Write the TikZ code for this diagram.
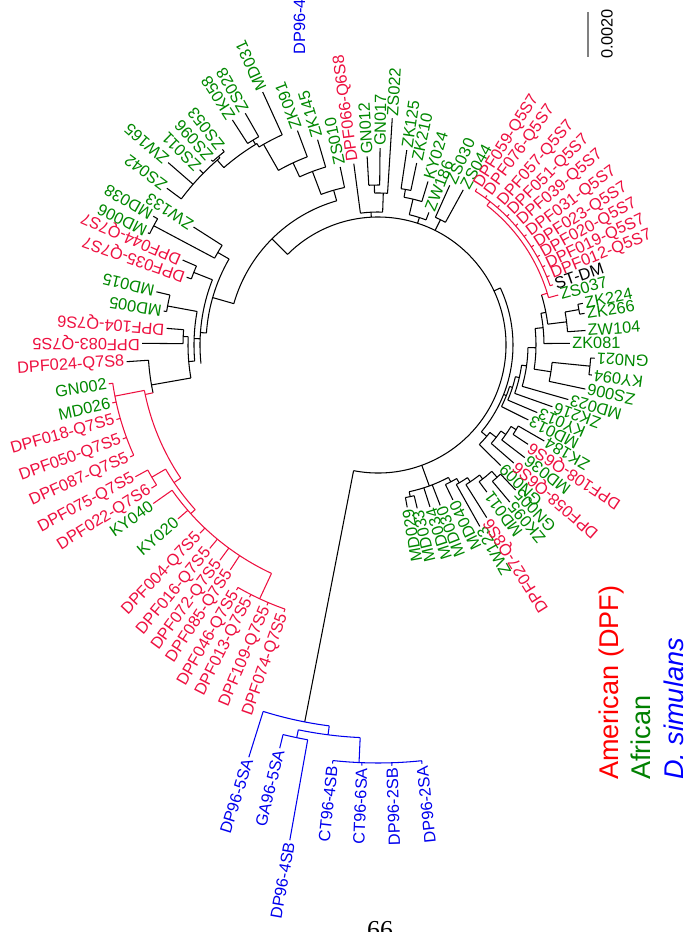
\documentclass[tikz,border=0pt]{standalone}
\usepackage{fontspec}
\setmainfont{Liberation Sans}
\newfontfamily\pagefont{Liberation Serif}
\definecolor{dpfred}{RGB}{238,16,64}
\definecolor{afgreen}{RGB}{0,136,0}
\definecolor{simblue}{RGB}{0,0,238}
\begin{document}
\begin{tikzpicture}[x=0.02cm, y=0.02cm,
  every node/.style={font=\fontsize{9.3}{11}\selectfont, inner sep=1pt},
  bk/.style={line width=0.6pt},
  rd/.style={line width=0.6pt, draw=dpfred},
  bl/.style={line width=0.6pt, draw=simblue},
  lw/.style={anchor=west, rotate=#1},
  le/.style={anchor=east, rotate=#1+180},
  td/.style={text=dpfred}, ta/.style={text=afgreen}, ts/.style={text=simblue}, tk/.style={text=black}]
\path[use as bounding box, fill=white] (-378,-587) rectangle (308,345);

% root
\draw[bk] (-101:128) arc[start angle=-101, end angle=135, radius=128];

% D. simulans
\draw[bk] (259:128) -- (259:384);
\draw[bl] (252.6:384) arc[start angle=252.6, end angle=262.7, radius=384];
\draw[bl] (252.6:384) -- (252.6:432) node[le=252.6, ts] (dp965sa) {DP96-5SA};
\draw[bl] (262.7:384) -- (262.7:393);
\draw[bl] (258.3:393) arc[start angle=258.3, end angle=267.4, radius=393];
\draw[bl] (258.3:393) -- (258.3:401);
\draw[bl] (256.3:401) arc[start angle=256.3, end angle=259.9, radius=401];
\draw[bl] (256.3:401) -- (256.3:415) node[le=256.3, ts] (ga965sa) {GA96-5SA};
\draw[bl] (259.9:401) -- (259.9:503) node[le=259.9, ts] (dp964sb) {DP96-4SB};
\draw[bl] (267.4:393) -- (267.4:418);
\draw[bl] (263.8:418) arc[start angle=263.8, end angle=276, radius=418];
\draw[bl] (263.8:418) -- (263.8:421) node[le=263.8, ts] (ct964sb) {CT96-4SB};
\draw[bl] (267.8:418) -- (267.8:421) node[le=267.8, ts] (ct966sa) {CT96-6SA};
\draw[bl] (271.9:418) -- (271.9:421) node[le=271.9, ts] (dp962sb) {DP96-2SB};
\draw[bl] (276:418) -- (276:421) node[le=276, ts] (dp962sa) {DP96-2SA};

% top
\draw[bk] (93:128) -- (93:133);
\draw[bk] (88:133) arc[start angle=88, end angle=97.6, radius=133];
\draw[bk] (97.6:133) -- (97.6:183) node[lw=97.6, td] (dpf066) {DPF066-Q6S8};
\draw[bk] (88:133) -- (88:152);
\draw[bk] (86.4:152) arc[start angle=86.4, end angle=91.3, radius=152];
\draw[bk] (86.4:152) -- (86.4:227) node[lw=86.4, ta] (zs022) {ZS022};
\draw[bk] (91.3:152) -- (91.3:160);
\draw[bk] (89.4:160) arc[start angle=89.4, end angle=93.3, radius=160];
\draw[bk] (89.4:160) -- (89.4:197) node[lw=89.4, ta] (gn017) {GN017};
\draw[bk] (93.3:160) -- (93.3:189) node[lw=93.3, ta] (gn012) {GN012};

\draw[bk] (72:128) -- (72:134);
\draw[bk] (69:134) arc[start angle=69, end angle=76.5, radius=134];
\draw[bk] (69:134) -- (69:142) node[lw=69, ta] (zw186) {ZW186};
\draw[bk] (76.5:134) -- (76.5:150);
\draw[bk] (73:150) arc[start angle=73, end angle=80, radius=150];
\draw[bk] (73:150) -- (73:171) node[lw=73, ta] (ky024) {KY024};
\draw[bk] (80:150) -- (80:158);
\draw[bk] (78:158) arc[start angle=78, end angle=81.6, radius=158];
\draw[bk] (78:158) -- (78:186) node[lw=78, ta] (zk210) {ZK210};
\draw[bk] (81.6:158) -- (81.6:197) node[lw=81.6, ta] (zk125) {ZK125};

\draw[bk] (63.5:128) -- (63.5:140);
\draw[bk] (61.2:140) arc[start angle=61.2, end angle=65.8, radius=140];
\draw[bk] (61.2:140) -- (61.2:177) node[lw=61.2, ta] (zs044) {ZS044};
\draw[bk] (65.8:140) -- (65.8:175) node[lw=65.8, ta] (zs030) {ZS030};

% right
\draw[bk] (25:128) -- (25:135);
\draw[bk] (-40:135) arc[start angle=-40, end angle=25, radius=135];
\draw[bk] (-40:135) -- (-40:142);
\draw[bk] (-44.5:142) arc[start angle=-44.5, end angle=-38, radius=142];
\draw[bk] (-44.5:142) -- (-44.5:172) node[le=-44.5, ta] (gn009) {GN009};
\draw[bk] (-38:142) -- (-38:150);
\draw[bk] (-41:150) arc[start angle=-41, end angle=-35, radius=150];
\draw[bk] (-41:150) -- (-41:180) node[le=-41, td] (dpf058) {DPF058-Q6S6};
\draw[bk] (-35:150) -- (-35:156);
\draw[bk] (-37.5:156) arc[start angle=-37.5, end angle=-31.5, radius=156];
\draw[bk] (-37.5:156) -- (-37.5:185) node[le=-37.5, ta] (md036) {MD036};
\draw[bk] (-31.5:156) -- (-31.5:162);
\draw[bk] (-33.5:162) arc[start angle=-33.5, end angle=-30, radius=162];
\draw[bk] (-33.5:162) -- (-33.5:180) node[le=-33.5, td] (dpf108) {DPF108-Q6S6};
\draw[bk] (-30:162) -- (-30:192) node[le=-30, ta] (zk184) {ZK184};

\draw[bk] (-21.5:135) -- (-21.5:138);
\draw[bk] (-26.5:138) arc[start angle=-26.5, end angle=-17.5, radius=138];
\draw[bk] (-26.5:138) -- (-26.5:168) node[le=-26.5, ta] (md013) {MD013};
\draw[bk] (-17.5:138) -- (-17.5:141);
\draw[bk] (-23:141) arc[start angle=-23, end angle=-13, radius=141];
\draw[bk] (-23:141) -- (-23:173) node[le=-23, ta] (ky013) {KY013};
\draw[bk] (-13:141) -- (-13:145);
\draw[bk] (-19.5:145) arc[start angle=-19.5, end angle=-8, radius=145];
\draw[bk] (-19.5:145) -- (-19.5:185) node[le=-19.5, ta] (zk216) {ZK216};
\draw[bk] (-8:145) -- (-8:150);
\draw[bk] (-16:150) arc[start angle=-16, end angle=-1, radius=150];
\draw[bk] (-16:150) -- (-16:198) node[le=-16, ta] (md023) {MD023};
\draw[bk] (-1:150) -- (-1:158);
\draw[bk] (-8.8:158) arc[start angle=-8.8, end angle=6, radius=158];
\draw[bk] (-8.8:158) -- (-8.8:175);
\draw[bk] (-12:175) arc[start angle=-12, end angle=-5.7, radius=175];
\draw[bk] (-12:175) -- (-12:212) node[le=-12, ta] (zs006) {ZS006};
\draw[bk] (-5.7:175) -- (-5.7:213);
\draw[bk] (-8:213) arc[start angle=-8, end angle=-3.5, radius=213];
\draw[bk] (-8:213) -- (-8:216) node[le=-8, ta] (ky094) {KY094};
\draw[bk] (-3.5:213) -- (-3.5:217) node[le=-3.5, ta] (gn021) {GN021};
\draw[bk] (6:158) -- (6:166);
\draw[bk] (0.5:166) arc[start angle=0.5, end angle=11, radius=166];
\draw[bk] (0.5:166) -- (0.5:192) node[lw=0.5, ta] (zk081) {ZK081};
\draw[bk] (11:166) -- (11:171);
\draw[bk] (7:171) arc[start angle=7, end angle=17, radius=171];
\draw[bk] (7:171) -- (7:190);
\draw[bk] (4:190) arc[start angle=4, end angle=10, radius=190];
\draw[bk] (4:190) -- (4:208) node[lw=4, ta] (zw104) {ZW104};
\draw[bk] (10:190) -- (10:204);
\draw[bk] (8.7:204) arc[start angle=8.7, end angle=11.5, radius=204];
\draw[bk] (8.7:204) -- (8.7:209) node[lw=8.7, ta] (zk266) {ZK266};
\draw[bk] (11.5:204) -- (11.5:209) node[lw=11.5, ta] (zk224) {ZK224};

% Q5S7 clade
\draw[rd] (17:171) -- (17:177);
\draw[rd] (15.5:177) arc[start angle=15.5, end angle=52, radius=177];
\draw[rd] (15.5:177) -- (15.5:187) node[lw=15.5, ta] (zs037) {ZS037};
\draw[rd] (52:177) -- (52:182);
\draw[rd] (19:182) arc[start angle=19, end angle=57.7, radius=182];
\draw[rd] (19:182) -- (19:185) node[lw=19, tk] (stdm) {ST-DM};
\draw[rd] (22:182) -- (22:185) node[lw=22, td] (dpf012) {DPF012-Q5S7};
\draw[rd] (25.4:182) -- (25.4:185) node[lw=25.4, td] (dpf019) {DPF019-Q5S7};
\draw[rd] (29:182) -- (29:185) node[lw=29, td] (dpf020) {DPF020-Q5S7};
\draw[rd] (32.6:182) -- (32.6:185) node[lw=32.6, td] (dpf023) {DPF023-Q5S7};
\draw[rd] (36.6:182) -- (36.6:185) node[lw=36.6, td] (dpf031) {DPF031-Q5S7};
\draw[rd] (40.9:182) -- (40.9:185) node[lw=40.9, td] (dpf039) {DPF039-Q5S7};
\draw[rd] (44.9:182) -- (44.9:185) node[lw=44.9, td] (dpf051) {DPF051-Q5S7};
\draw[rd] (49:182) -- (49:185) node[lw=49, td] (dpf057) {DPF057-Q5S7};
\draw[rd] (53.9:182) -- (53.9:185) node[lw=53.9, td] (dpf076) {DPF076-Q5S7};
\draw[rd] (57.7:182) -- (57.7:185) node[lw=57.7, td] (dpf059) {DPF059-Q5S7};

% bottom
\draw[bk] (-70:128) -- (-70:150);
\draw[bk] (-78:150) arc[start angle=-78, end angle=-62, radius=150];
\draw[bk] (-78:150) -- (-78:155);
\draw[bk] (-79.8:155) arc[start angle=-79.8, end angle=-76.5, radius=155];
\draw[bk] (-79.8:155) -- (-79.8:165) node[le=-79.8, ta] (md029) {MD029};
\draw[bk] (-76.5:155) -- (-76.5:168) node[le=-76.5, ta] (md033) {MD033};
\draw[bk] (-72.2:150) -- (-72.2:170) node[le=-72.2, ta] (md034) {MD034};
\draw[bk] (-68.8:150) -- (-68.8:172) node[le=-68.8, ta] (md030) {MD030};
\draw[bk] (-62:150) -- (-62:155);
\draw[bk] (-64.2:155) arc[start angle=-64.2, end angle=-59.5, radius=155];
\draw[bk] (-64.2:155) -- (-64.2:172) node[le=-64.2, ta] (md040) {MD040};
\draw[bk] (-59.5:155) -- (-59.5:160);
\draw[bk] (-60.7:160) arc[start angle=-60.7, end angle=-56, radius=160];
\draw[bk] (-60.7:160) -- (-60.7:208) node[le=-60.7, ta] (zw123) {ZW123};
\draw[bk] (-56:160) -- (-56:165);
\draw[bk] (-57.8:165) arc[start angle=-57.8, end angle=-52, radius=165];
\draw[bk] (-57.8:165) -- (-57.8:204) node[le=-57.8, td] (dpf027) {DPF027-Q8S6};
\draw[bk] (-52:165) -- (-52:170);
\draw[bk] (-53.5:170) arc[start angle=-53.5, end angle=-48, radius=170];
\draw[bk] (-53.5:170) -- (-53.5:183) node[le=-53.5, ta] (md011) {MD011};
\draw[bk] (-48:170) -- (-48:178);
\draw[bk] (-50:178) arc[start angle=-50, end angle=-46.5, radius=178];
\draw[bk] (-50:178) -- (-50:205) node[le=-50, ta] (zk095) {ZK095};
\draw[bk] (-46.5:178) -- (-46.5:200) node[le=-46.5, ta] (gn005) {GN005};

% upper left
\draw[bk] (135:128) -- (135:150);
\draw[bk] (106:150) arc[start angle=106, end angle=164, radius=150];
\draw[bk] (106:150) -- (106:161);
\draw[bk] (102:161) arc[start angle=102, end angle=110.7, radius=161];
\draw[bk] (102:161) -- (102:182) node[lw=102, ta] (zs010) {ZS010};
\draw[bk] (110.7:161) -- (110.7:185.5);
\draw[bk] (106.4:185.5) arc[start angle=106.4, end angle=115, radius=185.5];
\draw[bk] (106.4:185.5) -- (106.4:214) node[lw=106.4, ta] (zk145) {ZK145};
\draw[bk] (115:185.5) -- (115:201);
\draw[bk] (110.6:201) arc[start angle=110.6, end angle=119.7, radius=201];
\draw[bk] (110.6:201) -- (110.6:229) node[lw=110.6, ta] (zk091) {ZK091};
\draw[bk] (119.7:201) -- (119.7:231);
\draw[bk] (114.5:231) arc[start angle=114.5, end angle=121, radius=231];
\draw[bk] (114.5:231) -- (114.5:278) node[lw=114.5, ta] (md031) {MD031};
\draw[bk] (121:231) -- (121:235);
\draw[bk] (121:235) arc[start angle=121, end angle=131, radius=235];
\draw[bk] (121.4:235) -- (121.4:240);
\draw[bk] (119.8:240) arc[start angle=119.8, end angle=122.9, radius=240];
\draw[bk] (119.8:240) -- (119.8:267) node[lw=119.8, ta] (zs028) {ZS028};
\draw[bk] (122.9:240) -- (122.9:268) node[lw=122.9, ta] (zk058) {ZK058};
\draw[bk] (131:235) -- (131:245);
\draw[bk] (130.2:245) arc[start angle=130.2, end angle=143.4, radius=245];
\draw[bk] (130.2:245) -- (130.2:247);
\draw[bk] (128.5:247) arc[start angle=128.5, end angle=132, radius=247];
\draw[bk] (128.5:247) -- (128.5:250) node[lw=128.5, ta] (zs053) {ZS053};
\draw[bk] (132:247) -- (132:249) node[lw=132, ta] (zs096) {ZS096};
\draw[bk] (135.5:245) -- (135.5:250) node[lw=135.5, ta] (zs011) {ZS011};
\draw[bk] (139:245) -- (139:278) node[lw=139, ta] (zw165) {ZW165};
\draw[bk] (143.4:245) -- (143.4:263) node[lw=143.4, ta] (zs042) {ZS042};

% left
\draw[bk] (164:150) -- (164:172);
\draw[bk] (150:172) arc[start angle=150, end angle=176, radius=172];
\draw[bk] (150:172) -- (150:185);
\draw[bk] (147.4:185) arc[start angle=147.4, end angle=152, radius=185];
\draw[bk] (147.4:185) -- (147.4:219) node[lw=147.4, ta] (zw133) {ZW133};
\draw[bk] (152:185) -- (152:254);
\draw[bk] (150.2:254) arc[start angle=150.2, end angle=154, radius=254];
\draw[bk] (150.2:254) -- (150.2:259) node[lw=150.2, ta] (md038) {MD038};
\draw[bk] (154:254) -- (154:256) node[lw=154, ta] (md006) {MD006};
\draw[bk] (176:172) -- (176:178);
\draw[bk] (158.5:178) arc[start angle=158.5, end angle=186, radius=178];
\draw[bk] (158.5:178) -- (158.5:198);
\draw[bk] (156.5:198) arc[start angle=156.5, end angle=160.5, radius=198];
\draw[bk] (156.5:198) -- (156.5:213) node[lw=156.5, td] (dpf044) {DPF044-Q7S7};
\draw[bk] (160.5:198) -- (160.5:203) node[lw=160.5, td] (dpf035) {DPF035-Q7S7};
\draw[bk] (178:178) -- (178:184);
\draw[bk] (169.5:184) arc[start angle=169.5, end angle=185, radius=184];
\draw[bk] (169.5:184) -- (169.5:214);
\draw[bk] (166.5:214) arc[start angle=166.5, end angle=171, radius=214];
\draw[bk] (166.5:214) -- (166.5:228) node[lw=166.5, ta] (md015) {MD015};
\draw[bk] (171:214) -- (171:217) node[lw=171, ta] (md005) {MD005};
\draw[bk] (185:184) -- (185:190);
\draw[bk] (177.5:190) arc[start angle=177.5, end angle=190, radius=190];
\draw[bk] (177.5:190) -- (177.5:195);
\draw[bk] (175.5:195) arc[start angle=175.5, end angle=179.6, radius=195];
\draw[bk] (175.5:195) -- (175.5:212) node[lw=175.5, td] (dpf104) {DPF104-Q7S6};
\draw[bk] (179.6:195) -- (179.6:236) node[lw=179.6, td] (dpf083) {DPF083-Q7S5};
\draw[bk] (190:190) -- (190:230);
\draw[bk] (183.8:230) arc[start angle=183.8, end angle=192, radius=230];
\draw[bk] (183.8:230) -- (183.8:252) node[le=183.8, td] (dpf024) {DPF024-Q7S8};

% Q7S5 clade
\draw[rd] (192:230) -- (192:238);
\draw[rd] (191:238) arc[start angle=191, end angle=214, radius=238];
\draw[rd] (191:238) -- (191:268);
\draw[rd] (188.2:268) arc[start angle=188.2, end angle=204.3, radius=268];
\draw[rd] (188.2:268) -- (188.2:272) node[le=188.2, ta] (gn002) {GN002};
\draw[rd] (192.3:268) -- (192.3:272) node[le=192.3, ta] (md026) {MD026};
\draw[rd] (195.9:268) -- (195.9:272) node[le=195.9, td] (dpf018) {DPF018-Q7S5};
\draw[rd] (200.2:268) -- (200.2:272) node[le=200.2, td] (dpf050) {DPF050-Q7S5};
\draw[rd] (204.3:268) -- (204.3:272) node[le=204.3, td] (dpf087) {DPF087-Q7S5};
\draw[rd] (214:238) -- (214:246);
\draw[rd] (210.3:246) arc[start angle=210.3, end angle=222, radius=246];
\draw[rd] (210.3:246) -- (210.3:262);
\draw[rd] (208.5:262) arc[start angle=208.5, end angle=212.3, radius=262];
\draw[rd] (208.5:262) -- (208.5:276) node[le=208.5, td] (dpf075) {DPF075-Q7S5};
\draw[rd] (212.3:262) -- (212.3:268) node[le=212.3, td] (dpf022) {DPF022-Q7S6};
\draw[rd] (222:246) -- (222:252);
\draw[rd] (215.2:252) arc[start angle=215.2, end angle=245, radius=252];
\draw[rd] (215.2:252) -- (215.2:275) node[le=215.2, ta] (ky040) {KY040};
\draw[rd] (221:252) -- (221:265) node[le=221, ta] (ky020) {KY020};
\draw[rd] (226.6:252) -- (226.6:259) node[le=226.6, td] (dpf004) {DPF004-Q7S5};
\draw[rd] (230.4:252) -- (230.4:264) node[le=230.4, td] (dpf016) {DPF016-Q7S5};
\draw[rd] (233.7:252) -- (233.7:267) node[le=233.7, td] (dpf072) {DPF072-Q7S5};
\draw[rd] (236.7:252) -- (236.7:269) node[le=236.7, td] (dpf085) {DPF085-Q7S5};
\draw[rd] (245:252) -- (245:280);
\draw[rd] (240:280) arc[start angle=240, end angle=250.6, radius=280];
\draw[rd] (240:280) -- (240:283) node[le=240, td] (dpf046) {DPF046-Q7S5};
\draw[rd] (243:280) -- (243:283) node[le=243, td] (dpf013) {DPF013-Q7S5};
\draw[rd] (246.9:280) -- (246.9:283) node[le=246.9, td] (dpf109) {DPF109-Q7S5};
\draw[rd] (250.6:280) -- (250.6:283) node[le=250.6, td] (dpf074) {DPF074-Q7S5};

% scale, legend, stray label, page number
\draw[line width=1.1pt, gray] (210,333) -- (210,288);
\node[rotate=90] (scale) at (229,311) {0.0020};
\node[rotate=90, anchor=base west, inner sep=0, ts] (dp964sbtop) at (-73,290) {DP96-4SB};
\node[rotate=90, anchor=base west, inner sep=0, text=red, font=\fontsize{15.4}{18}\selectfont] (amer) at (240,-435) {American (DPF)};
\node[rotate=90, anchor=base west, inner sep=0, text=green!50!black, font=\fontsize{15.4}{18}\selectfont] (afr) at (272,-435) {African};
\node[rotate=90, anchor=base west, inner sep=0, text=blue, font=\fontsize{15.4}{18}\selectfont\itshape] (dsim) at (305,-435) {D. simulans};
\node[anchor=base, inner sep=0, font=\pagefont\fontsize{14.7}{17}\selectfont] (page) at (2,-593) {66};
\end{tikzpicture}
\end{document}
